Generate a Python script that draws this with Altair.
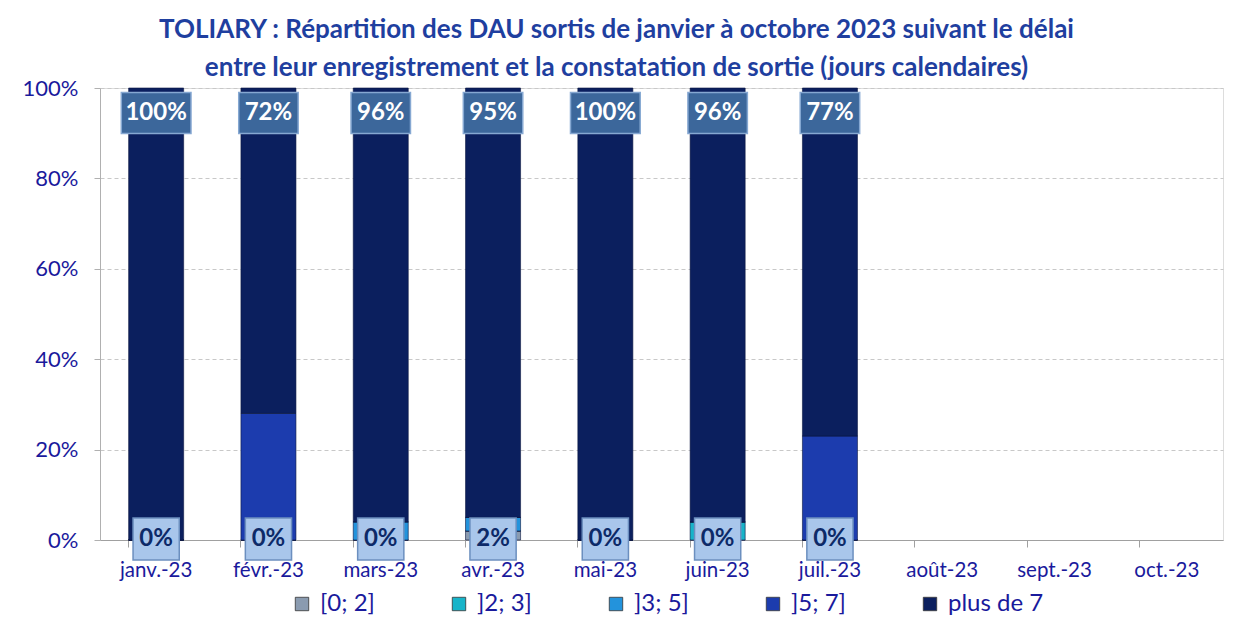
import altair as alt
import pandas as pd

mois = ["janv.-23", "févr.-23", "mars-23", "avr.-23", "mai-23",
        "juin-23", "juil.-23", "août-23", "sept.-23", "oct.-23"]
tranches = ["[0; 2]", "]2; 3]", "]3; 5]", "]5; 7]", "plus de 7"]
couleurs = ["#8a9bb0", "#17b4c9", "#2393dc", "#1c3cae", "#0b1f5e"]

# values in % (None = no data)
v_0_2 = [0, 0, 0, 2, 0, 0, 0, None, None, None]
v_2_3 = [0, 0, 0, 0, 0, 4, 0, None, None, None]
v_3_5 = [0, 0, 4, 3, 0, 0, 0, None, None, None]
v_5_7 = [0, 28, 0, 0, 0, 0, 23, None, None, None]
v_plus7 = [100, 72, 96, 95, 100, 96, 77, None, None, None]

series = [v_0_2, v_2_3, v_3_5, v_5_7, v_plus7]

rows = []
for i, m in enumerate(mois):
    for k, (nom, vals) in enumerate(zip(tranches, series)):
        if vals[i] is not None:
            rows.append({"mois": m, "tranche": nom, "k": k, "pct": vals[i]})
df = pd.DataFrame(rows)

top = pd.DataFrame([
    {"mois": m, "txt": f"{v}%", "ypos": 100,
     "forme": "large" if v >= 100 else "normal"}
    for m, v in zip(mois, v_plus7) if v is not None
])
bot = pd.DataFrame([
    {"mois": m, "txt": f"{v}%", "ypos": 0}
    for m, v in zip(mois, v_0_2) if v is not None
])

FONT = "Lato"
NAVY = "#1a1a9c"

xenc = alt.X("mois:N", sort=mois, title=None,
             scale=alt.Scale(domain=mois, paddingInner=0.51, paddingOuter=0.255),
             axis=alt.Axis(labelAngle=0, labelFont=FONT, labelFontSize=20.5,
                           labelColor=NAVY, labelPadding=13, bandPosition=0,
                           tickSize=7, tickColor="#a0a0a0", domainColor="#a0a0a0",
                           grid=False))

bars = alt.Chart(df).mark_bar(stroke="#0a1640", strokeWidth=0.6).encode(
    x=xenc,
    y=alt.Y("pct:Q", stack="zero", title=None,
            scale=alt.Scale(domain=[0, 100], nice=False),
            axis=alt.Axis(values=[0, 20, 40, 60, 80, 100],
                          labelExpr="datum.value + '%'",
                          labelFont=FONT, labelFontSize=22, labelColor=NAVY,
                          labelPadding=16, tickSize=6, tickColor="#b0b0b0",
                          domainColor="#b0b0b0",
                          grid=True, gridDash=[4, 3], gridColor="#c8c8c8")),
    color=alt.Color("tranche:N",
                    scale=alt.Scale(domain=tranches, range=couleurs),
                    legend=alt.Legend(title=None, orient="none", direction="horizontal",
                                      legendX=190, legendY=504, columns=5,
                                      gridAlign="all", columnPadding=31,
                                      symbolType="square", symbolSize=180,
                                      symbolStrokeColor="#333333", symbolStrokeWidth=0.8,
                                      labelFont=FONT, labelFontSize=24,
                                      labelColor=NAVY, labelOffset=6, padding=0)),
    order=alt.Order("k:Q", sort="ascending"),
)

wide = "M-1.7,-1H1.7V1H-1.7Z"
normal = "M-1.45,-1H1.45V1H-1.45Z"
petit = "M-1.1,-1H1.1V1H-1.1Z"

top_box = alt.Chart(top).mark_point(filled=True, opacity=1, fill="#3c679b",
                                    stroke="#86a8d2", strokeWidth=1.5,
                                    size=41 * 41, yOffset=25).encode(
    x=alt.X("mois:N", sort=mois),
    y=alt.Y("ypos:Q"),
    shape=alt.Shape("forme:N", scale=alt.Scale(domain=["large", "normal"],
                                               range=[wide, normal]), legend=None),
)
top_txt = alt.Chart(top).mark_text(font=FONT, fontSize=24, fontWeight="bold",
                                   color="white", yOffset=25, baseline="middle").encode(
    x=alt.X("mois:N", sort=mois), y=alt.Y("ypos:Q"), text="txt:N")

bot_box = alt.Chart(bot).mark_point(filled=True, opacity=1, fill="#a9c6eb",
                                    stroke="#6c8fbf", strokeWidth=1.5, shape=petit,
                                    size=42 * 42, yOffset=-1).encode(
    x=alt.X("mois:N", sort=mois), y=alt.Y("ypos:Q"))
bot_txt = alt.Chart(bot).mark_text(font=FONT, fontSize=24, fontWeight="bold",
                                   color="#0d2a68", yOffset=-1, baseline="middle").encode(
    x=alt.X("mois:N", sort=mois), y=alt.Y("ypos:Q"), text="txt:N")

chart = alt.layer(bars, top_box, top_txt, bot_box, bot_txt).properties(
    width=1123, height=452,
    autosize=alt.AutoSizeParams(type="none"),
    padding={"left": 92, "top": 80, "right": 11, "bottom": 91},
    title=alt.TitleParams(
        text=["TOLIARY : Répartition des DAU sortis de janvier à octobre 2023 suivant le délai",
              "entre leur enregistrement et la constatation de sortie (jours calendaires)"],
        font=FONT, fontSize=26, fontWeight="bold", color="#1f3f9f",
        anchor="middle", offset=8, lineHeight=38, dx=-45, dy=12),
).configure_view(stroke=None).configure(background="white")

chart.save("out.html", embed_options={"renderer": "svg", "actions": False})
